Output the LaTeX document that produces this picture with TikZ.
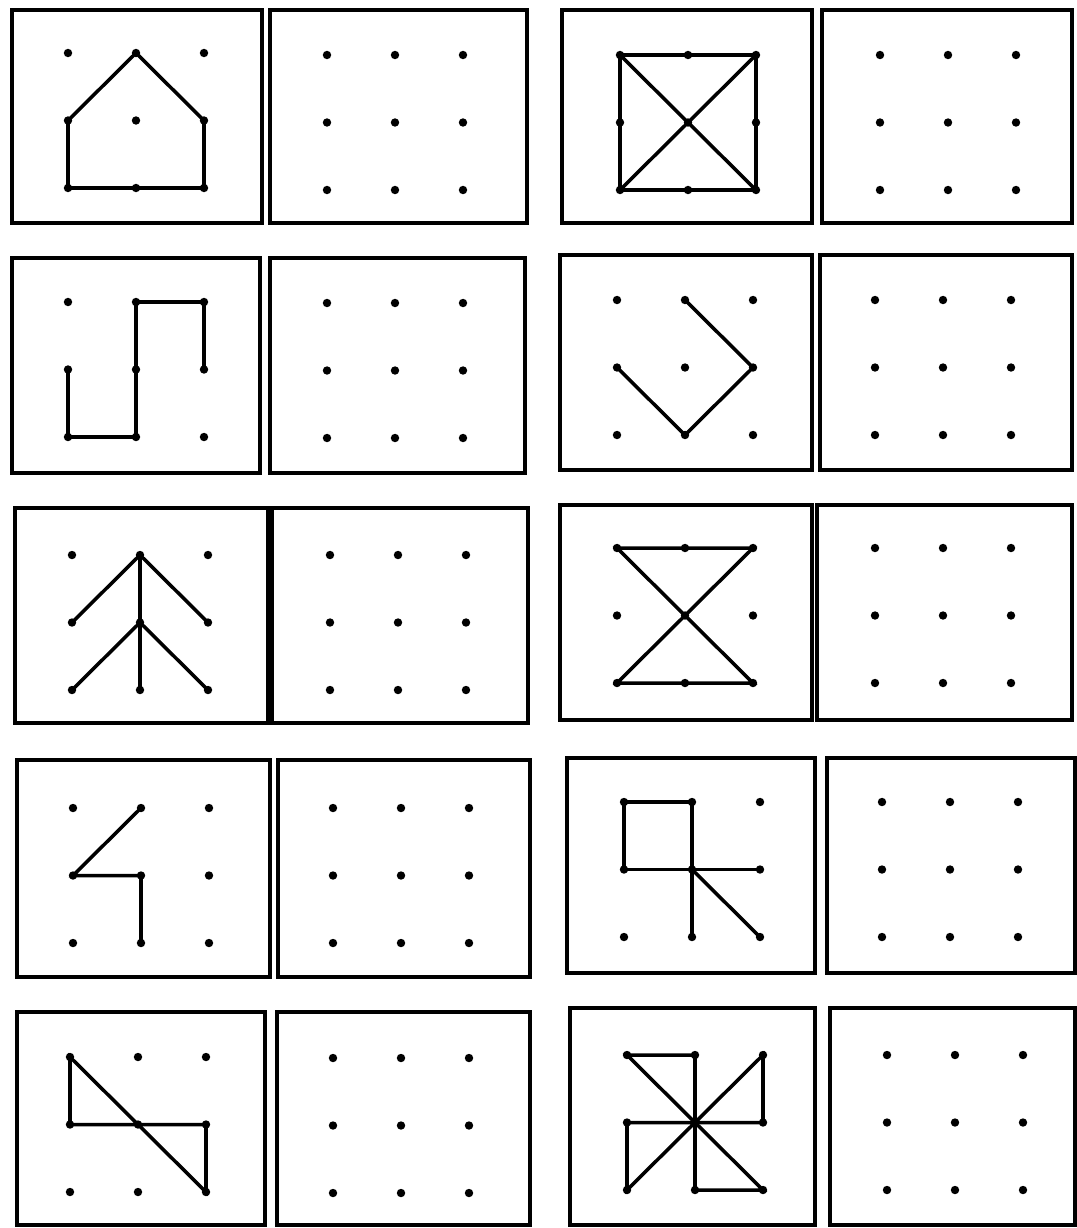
\documentclass[tikz,border=0pt]{standalone}
\usepackage{tikz}

% one framed cell: name, corners x1,y1,x2,y2, first dot x,y
\newcommand\dotcell[7]{%
  \draw[frame] (#2,#3) rectangle (#4,#5);
  \foreach \i in {0,1,2}{
    \foreach \j in {0,1,2}{
      \coordinate (#1-\i\j) at ({#6+68*\i},{#7+67.5*\j});
      \fill (#1-\i\j) circle (2.4pt);
    }
  }%
}

\begin{document}
\begin{tikzpicture}[
  x=0.02cm, y=-0.02cm,
  frame/.style={line width=2.2pt, draw=black},
  fig/.style={line width=2pt, draw=black, line cap=round}
]
\useasboundingbox[fill=white] (0,0) rectangle (1077,1228);

% row 1
\dotcell{house}{12}{10}{262}{223}{68}{53}
\dotcell{houseb}{270}{10}{527}{223}{327}{55}
\dotcell{cross}{562}{10}{812}{223}{620}{55}
\dotcell{crossb}{822}{10}{1072}{223}{880}{55}
\draw[fig] (house-10) -- (house-01) -- (house-02) -- (house-22) -- (house-21) -- cycle;
\draw[fig] (cross-00) -- (cross-20) -- (cross-22) -- (cross-02) -- cycle;
\draw[fig] (cross-00) -- (cross-22);
\draw[fig] (cross-20) -- (cross-02);

% row 2
\dotcell{hook}{12}{258}{260}{473}{68}{302}
\dotcell{hookb}{270}{258}{525}{473}{327}{303}
\dotcell{wedge}{560}{255}{812}{470}{617}{300}
\dotcell{wedgeb}{820}{255}{1072}{470}{875}{300}
\draw[fig] (hook-01) -- (hook-02) -- (hook-12) -- (hook-10) -- (hook-20) -- (hook-21);
\draw[fig] (wedge-10) -- (wedge-21) -- (wedge-12) -- (wedge-01);

% row 3
\dotcell{tree}{15}{508}{268}{723}{72}{555}
\dotcell{treeb}{272}{508}{528}{723}{330}{555}
\dotcell{glass}{560}{505}{812}{720}{617}{548}
\dotcell{glassb}{817}{505}{1072}{720}{875}{548}
\draw[fig] (tree-10) -- (tree-12);
\draw[fig] (tree-01) -- (tree-10) -- (tree-21);
\draw[fig] (tree-02) -- (tree-11) -- (tree-22);
\draw[fig] (glass-00) -- (glass-20) -- (glass-02) -- (glass-22) -- cycle;

% row 4
\dotcell{bolt}{17}{760}{270}{977}{73}{808}
\dotcell{boltb}{278}{760}{530}{977}{333}{808}
\dotcell{flag}{567}{758}{815}{973}{624}{802}
\dotcell{flagb}{827}{758}{1075}{973}{882}{802}
\draw[fig] (bolt-10) -- (bolt-01) -- (bolt-11) -- (bolt-12);
\draw[fig] (flag-01) -- (flag-00) -- (flag-10) -- (flag-12);
\draw[fig] (flag-01) -- (flag-21);
\draw[fig] (flag-11) -- (flag-22);

% row 5
\dotcell{zig}{17}{1012}{265}{1225}{70}{1057}
\dotcell{zigb}{277}{1012}{530}{1225}{333}{1058}
\dotcell{mill}{570}{1008}{815}{1225}{627}{1055}
\dotcell{millb}{830}{1008}{1075}{1225}{887}{1055}
\draw[fig] (zig-00) -- (zig-01) -- (zig-21) -- (zig-22) -- cycle;
\draw[fig] (mill-00) -- (mill-10) -- (mill-12) -- (mill-22) -- cycle;
\draw[fig] (mill-20) -- (mill-21) -- (mill-01) -- (mill-02) -- cycle;
\end{tikzpicture}
\end{document}
